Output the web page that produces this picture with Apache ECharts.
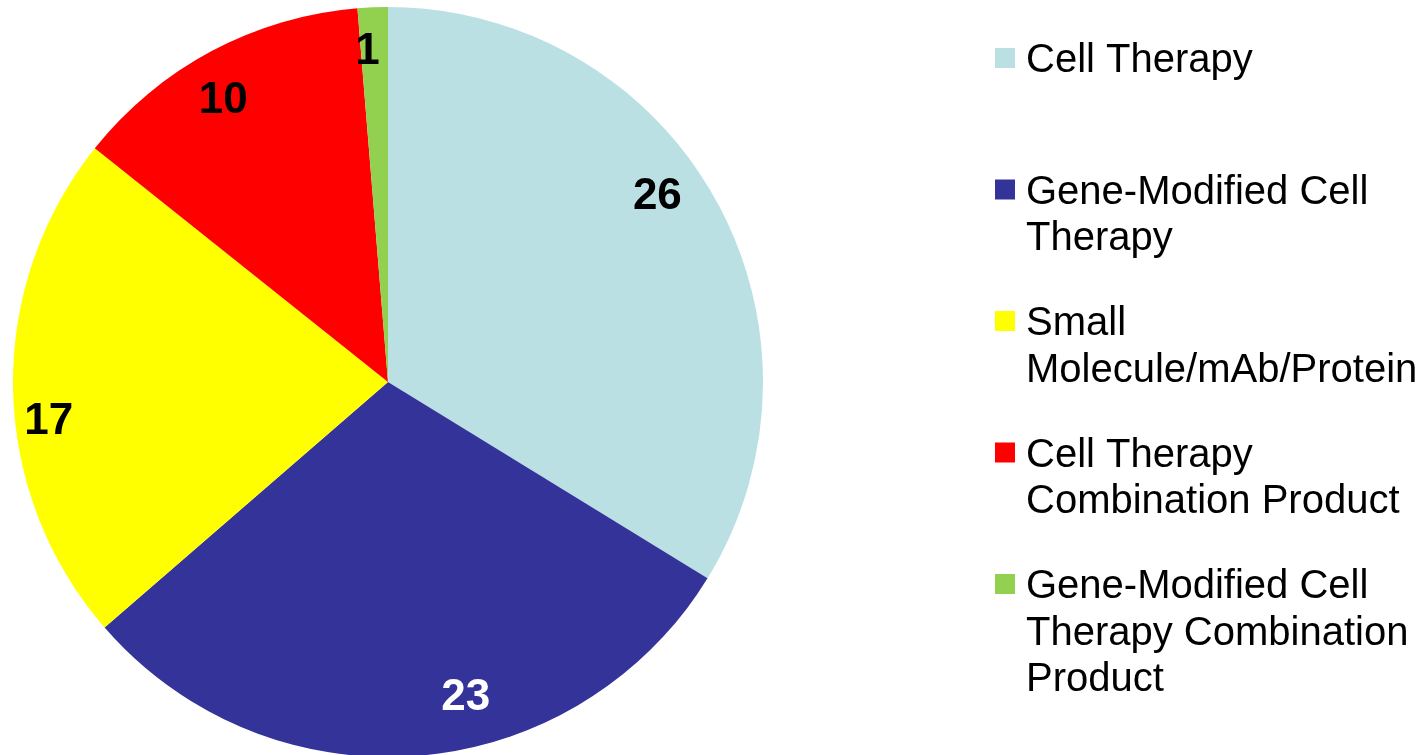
<!DOCTYPE html>
<html>
<head>
<meta charset="utf-8">
<title>Product types</title>
<script src="https://cdn.jsdelivr.net/npm/echarts@6/dist/echarts.min.js"></script>
<style>
  html, body { margin: 0; padding: 0; background: #ffffff; }
  #chart { width: 1424px; height: 755px; }
</style>
</head>
<body>
<div id="chart"></div>
<script>
// Product categories and counts
const categories = [
  'Cell Therapy',
  'Gene-Modified Cell Therapy',
  'Small Molecule/mAb/Protein',
  'Cell Therapy Combination Product',
  'Gene-Modified Cell Therapy Combination Product'
];
const counts = [26, 23, 17, 10, 1];

// Legend text as it wraps in the key
const legendLines = [
  ['Cell Therapy'],
  ['Gene-Modified Cell', 'Therapy'],
  ['Small', 'Molecule/mAb/Protein'],
  ['Cell Therapy', 'Combination Product'],
  ['Gene-Modified Cell', 'Therapy Combination', 'Product']
];

// Styling
const colors = ['#BAE0E3', '#333399', '#FFFF00', '#FF0000', '#92D050'];
const labelColors = ['#000000', '#FFFFFF', '#000000', '#000000', '#000000'];
const labelNudge = [[-18, -24], [51, -12], [-10, 33], [-10, 9], [-7, -1]];

const FONT = '"Liberation Sans", Arial, sans-serif';
const CX = 388, CY = 382, R = 375;

const chart = echarts.init(document.getElementById('chart'), null, { renderer: 'canvas' });

const sliceData = categories.map((name, i) => ({
  name,
  value: counts[i],
  itemStyle: { color: colors[i] }
}));

const labelData = categories.map((name, i) => ({
  name,
  value: counts[i],
  label: {
    color: labelColors[i],
    offset: labelNudge[i]
  }
}));

// Key: square swatch + wrapped text per category
const legendGraphics = [];
const KEY_X = 995, KEY_TOP = 58, KEY_STEP = 131.5, LINE_H = 46.5;
legendLines.forEach((lines, i) => {
  const y = KEY_TOP + i * KEY_STEP;
  legendGraphics.push({
    type: 'rect',
    shape: { x: KEY_X, y: y - 10, width: 20, height: 20 },
    style: { fill: colors[i] },
    silent: true
  });
  legendGraphics.push({
    type: 'text',
    x: KEY_X + 31,
    y: y + 3,
    style: {
      text: lines.join('\n'),
      font: '40px ' + FONT,
      fill: '#000000',
      lineHeight: LINE_H,
      verticalAlign: 'top',
      y: -LINE_H / 2
    },
    silent: true
  });
});

chart.setOption({
  backgroundColor: '#ffffff',
  animation: false,
  series: [
    {
      type: 'pie',
      center: [CX, CY],
      radius: [0, R],
      startAngle: 90,
      clockwise: true,
      silent: true,
      label: { show: false },
      labelLine: { show: false },
      itemStyle: { borderWidth: 0 },
      data: sliceData
    },
    {
      // transparent ring carrying the value labels near the rim
      type: 'pie',
      center: [CX, CY],
      radius: [R * 0.74, R],
      startAngle: 90,
      clockwise: true,
      silent: true,
      itemStyle: { color: 'rgba(0,0,0,0)', borderWidth: 0 },
      label: {
        show: true,
        position: 'inside',
        rotate: 0,
        formatter: '{c}',
        fontFamily: FONT,
        fontSize: 44,
        fontWeight: 'bold'
      },
      labelLine: { show: false },
      data: labelData
    }
  ],
  graphic: legendGraphics
});
</script>
</body>
</html>
